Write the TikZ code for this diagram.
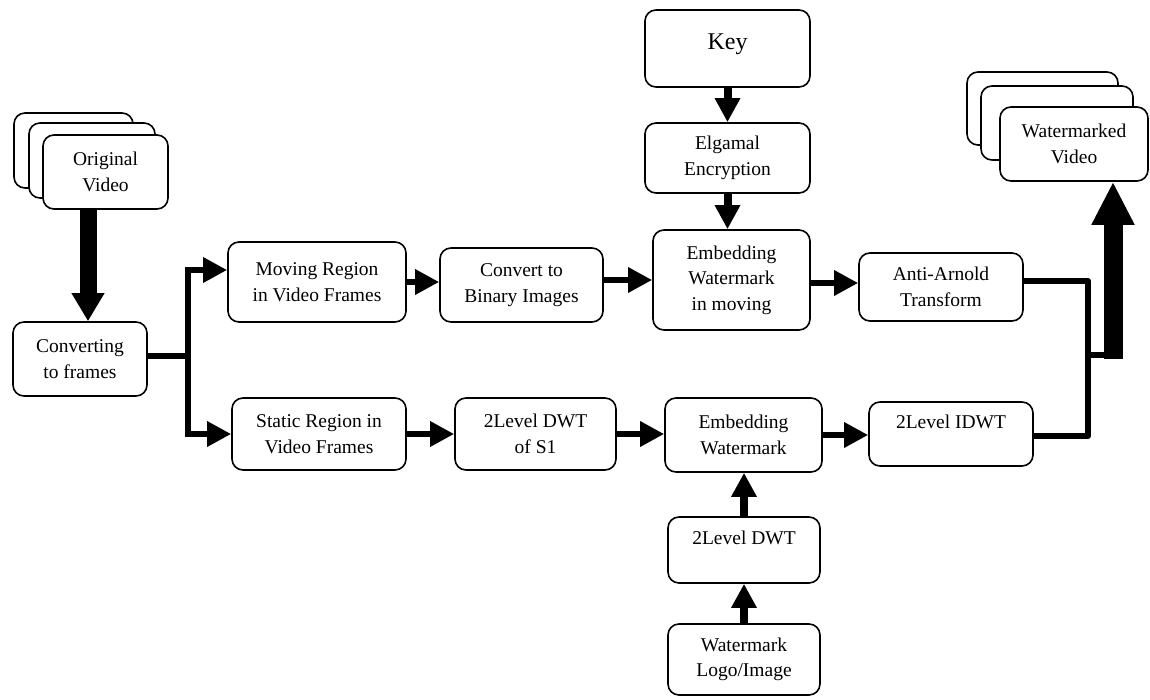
\documentclass[tikz,border=0pt]{standalone}
\usepackage{fontspec}
\setmainfont{Liberation Serif}
\usetikzlibrary{arrows.meta}
\begin{document}
\begin{tikzpicture}[x=1pt,y=-1pt,
  box/.style={draw, line width=1.6pt, rounded corners=11pt, fill=white, align=center, inner sep=2pt,
    font=\fontsize{19.5}{25.5}\selectfont},
  line/.style={line width=6pt},
  arr/.style={line width=6pt, -{Triangle[length=24pt,width=24pt]}},
  varr/.style={line width=8pt, -{Triangle[length=24pt,width=24pt]}},
  bigarr/.style={line width=17pt, -{Triangle[length=28pt,width=31pt]}},
  hugearr/.style={line width=19pt, -{Triangle[length=43pt,width=40pt]}}
]
\useasboundingbox (0,0) rectangle (1150,700);
% Original video stack
\node[box, minimum width=119pt, minimum height=75pt] (ob) at (73.5,150.5) {};
\node[box, minimum width=126pt, minimum height=75pt] (om) at (92,160.5) {};
\node[box, minimum width=125pt, minimum height=74pt] (of) at (105.5,172) {Original\\Video};
% Watermarked video stack
\node[box, minimum width=151pt, minimum height=73pt] (wb) at (1042.5,108.5) {};
\node[box, minimum width=152pt, minimum height=74pt] (wm) at (1057,123) {};
\node[box, minimum width=148pt, minimum height=74pt] (wf) at (1074,144) {Watermarked\\Video};
% Other boxes
\node[box, minimum width=134pt, minimum height=74pt] (conv) at (80,359) {Converting\\to frames};
\node[box, minimum width=178pt, minimum height=80pt] (moving) at (317,282) {Moving Region\\in Video Frames};
\node[box, minimum width=163pt, minimum height=74pt] (binary) at (521.5,285) {Convert to\\Binary Images};
\node[box, minimum width=174pt, minimum height=72pt] (static) at (319,434) {Static Region in\\Video Frames};
\node[box, minimum width=161pt, minimum height=72pt] (dwts) at (535.5,434) {2Level DWT\\of S1};
\node[box, minimum width=157pt, minimum height=74pt] (embs) at (743.5,435) {Embedding\\Watermark};
\node[box, minimum width=152pt, minimum height=66pt] (dwt) at (744,550) {2Level DWT\\\mbox{}};
\node[box, minimum width=152pt, minimum height=71pt] (logo) at (744,659.5) {Watermark\\Logo/Image};
\node[box, minimum width=165pt, minimum height=77pt, text depth=14pt, font=\fontsize{24}{28}\selectfont] (key) at (727.5,48.5) {Key};
\node[box, minimum width=165pt, minimum height=70pt] (elg) at (727.5,158) {Elgamal\\Encryption};
\node[box, minimum width=157pt, minimum height=100pt] (embm) at (731.5,280) {Embedding\\Watermark\\in moving};
\node[box, minimum width=164pt, minimum height=68pt] (anti) at (941,287) {Anti-Arnold\\Transform};
\node[box, minimum width=164pt, minimum height=64pt] (idwt) at (951,434) {2Level IDWT\\\mbox{}};
% Connectors
\draw[bigarr] ([xshift=8pt]conv.north |- of.south) -- ([xshift=8pt]conv.north);
\coordinate (j) at (188,356);
\draw[line] ([yshift=3pt]conv.east) -- (j);
\draw[arr] (j) |- ([yshift=12pt]moving.west);
\draw[arr] (j) |- (static.west);
\draw[arr] (moving.east) -- (moving.east -| binary.west);
\draw[arr] ([yshift=5pt]binary.east) -- (embm.west);
\draw[varr] (key.south -| elg.north) -- (elg.north);
\draw[varr] (elg.south) -- (elg.south |- embm.north);
\draw[arr] ([yshift=-3pt]embm.east) -- ([yshift=-3pt]embm.east -| anti.west);
\draw[arr] (static.east) -- (static.east -| dwts.west);
\draw[arr] (dwts.east) -- (dwts.east -| embs.west);
\draw[arr] (embs.east) -- (embs.east -| idwt.west);
\draw[varr] (logo.north) -- (logo.north |- dwt.south);
\draw[varr] (dwt.north) -- (dwt.north |- embs.south);
% output bus
\coordinate (b1) at ([yshift=6pt]anti.east -| 1088,0);
\coordinate (b2) at ([yshift=-2pt]idwt.east -| 1088,0);
\draw[line] ([yshift=6pt]anti.east) -- (b1);
\draw[line] ([yshift=-2pt]idwt.east) -- (b2);
\draw[line, line cap=round] (b1) -- (b2);
\coordinate (b3) at (1088,355);
\coordinate (tk) at ([xshift=39pt]wf.south);
\draw[line] (b3) -- (tk |- b3);
\draw[hugearr] ([yshift=-4pt]tk |- b3) -- (tk);
\end{tikzpicture}
\end{document}
